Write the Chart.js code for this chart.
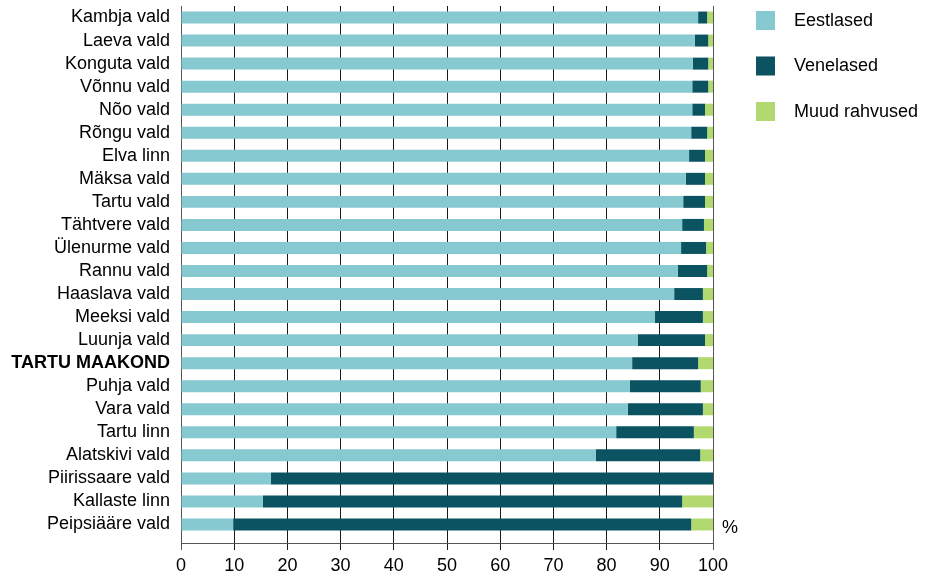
<!DOCTYPE html>
<html>
<head>
<meta charset="utf-8">
<script src="https://cdn.jsdelivr.net/npm/chart.js@4.4.1/dist/chart.umd.min.js"></script>
<style>
  html, body { margin: 0; padding: 0; background: #fff; }
  #wrap { width: 925px; height: 576px; }
</style>
</head>
<body>
<div id="wrap"><canvas id="chart"></canvas></div>
<script>
const regions = [
  'Kambja vald', 'Laeva vald', 'Konguta vald', 'Võnnu vald', 'Nõo vald', 'Rõngu vald',
  'Elva linn', 'Mäksa vald', 'Tartu vald', 'Tähtvere vald', 'Ülenurme vald', 'Rannu vald',
  'Haaslava vald', 'Meeksi vald', 'Luunja vald', 'TARTU MAAKOND', 'Puhja vald', 'Vara vald',
  'Tartu linn', 'Alatskivi vald', 'Piirissaare vald', 'Kallaste linn', 'Peipsiääre vald'
];
const eestlased = [97.2, 96.6, 96.2, 96.1, 96.1, 95.9, 95.5, 94.9, 94.4, 94.2, 94.0, 93.4,
  92.7, 89.1, 85.9, 84.8, 84.4, 84.0, 81.8, 78.0, 16.9, 15.4, 9.8];
const venelased = [1.7, 2.5, 2.9, 3.0, 2.4, 3.0, 3.0, 3.6, 4.1, 4.1, 4.7, 5.5,
  5.4, 9.0, 12.6, 12.4, 13.3, 14.1, 14.6, 19.6, 83.1, 78.8, 86.1];
const muudRahvused = [1.1, 0.9, 0.9, 0.9, 1.5, 1.1, 1.5, 1.5, 1.5, 1.7, 1.3, 1.1,
  1.9, 1.9, 1.5, 2.8, 2.3, 1.9, 3.6, 2.4, 0, 5.8, 4.1];
const seriesNames = ['Eestlased', 'Venelased', 'Muud rahvused'];
const boldRegion = 'TARTU MAAKOND';
const unitLabel = '%';

const light = '#86c9d1';
const dark = '#0b5361';
const green = '#b1d96f';
const fontFamily = '"Liberation Sans", Arial, sans-serif';

// x axis line sits a bit below the last bar, plus the legend and the % sign
const extras = {
  id: 'extras',
  afterDraw(chart) {
    const { ctx, chartArea: { left, right, bottom } } = chart;
    const axisY = Math.round(bottom + 7) + 0.5;
    ctx.save();
    ctx.strokeStyle = '#555';
    ctx.lineWidth = 1;
    ctx.beginPath();
    ctx.moveTo(left, axisY);
    ctx.lineTo(right, axisY);
    ctx.stroke();

    ctx.fillStyle = '#000';
    ctx.font = '18px ' + fontFamily;
    ctx.textBaseline = 'middle';
    ctx.textAlign = 'left';
    ctx.fillText(unitLabel, right + 9, bottom - 8);

    chart.data.datasets.forEach((ds, i) => {
      const y = 11 + i * 45.5;
      ctx.fillStyle = ds.backgroundColor;
      ctx.fillRect(756, y, 19, 19);
      ctx.fillStyle = '#000';
      ctx.font = '18px ' + fontFamily;
      ctx.fillText(ds.label, 794, y + 10);
    });
    ctx.restore();
  }
};

new Chart(document.getElementById('chart'), {
  type: 'bar',
  plugins: [extras],
  data: {
    labels: regions,
    datasets: [
      { label: seriesNames[0], data: eestlased, backgroundColor: light },
      { label: seriesNames[1], data: venelased, backgroundColor: dark },
      { label: seriesNames[2], data: muudRahvused, backgroundColor: green }
    ]
  },
  options: {
    indexAxis: 'y',
    responsive: true,
    maintainAspectRatio: false,
    animation: false,
    barPercentage: 0.52,
    categoryPercentage: 1,
    borderWidth: 0,
    layout: {
      padding: { top: 6, right: 212, left: 0, bottom: 0 }
    },
    scales: {
      x: {
        stacked: true,
        min: 0,
        max: 100,
        border: { display: false },
        grid: {
          color: (c) => (c.tick && (c.tick.value === 0 || c.tick.value === 100)) ? '#555' : '#1a1a1a',
          lineWidth: 1,
          tickLength: 14
        },
        ticks: {
          stepSize: 10,
          color: '#000',
          padding: 5,
          font: { family: fontFamily, size: 18 }
        },
        afterFit: (axis) => {
          axis.height = 40;
          axis.paddingLeft = 0;
          axis.paddingRight = 0;
        }
      },
      y: {
        stacked: true,
        border: { display: false },
        grid: { display: false, drawTicks: false },
        ticks: {
          color: '#000',
          padding: 11,
          autoSkip: false,
          font: (c) => ({
            family: fontFamily,
            size: 18,
            weight: regions[c.index] === boldRegion ? 'bold' : 'normal'
          })
        },
        afterFit: (axis) => {
          axis.width = 181;
          axis.paddingTop = 0;
          axis.paddingBottom = 0;
        }
      }
    },
    plugins: {
      legend: { display: false },
      tooltip: { enabled: false }
    }
  }
});
</script>
</body>
</html>
